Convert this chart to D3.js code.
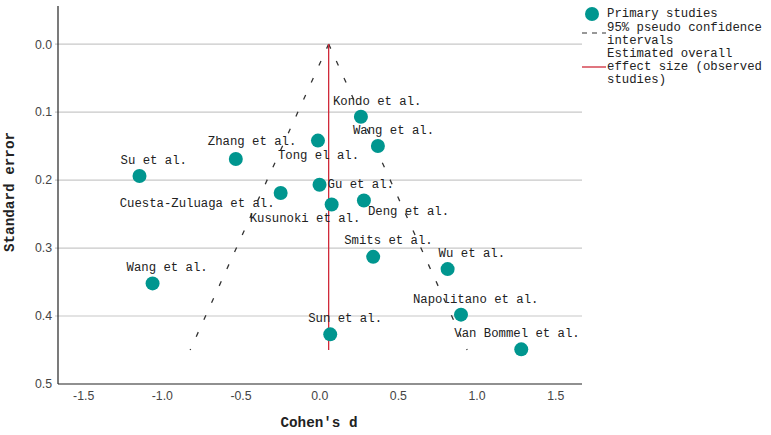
<!DOCTYPE html>
<html>
<head>
<meta charset="utf-8">
<script src="https://cdn.jsdelivr.net/npm/d3@7"></script>
<style>
  body { margin: 0; background: #fff; }
  svg { display: block; font-family: "Liberation Mono", "Courier New", monospace; }
  .lbl { font-size: 12.3px; fill: #222; }
  .tick text { font-size: 12.3px; fill: #444; }
  .ttl { font-size: 14.3px; font-weight: bold; fill: #222; }
</style>
</head>
<body>
<div id="chart"></div>
<script>
// Funnel plot: Cohen's d vs standard error
const studies = ["Kondo et al.", "Wang et al.", "Tong el al.", "Zhang et al.", "Su et al.",
  "Cuesta-Zuluaga et al.", "Gu et al.", "Kusunoki et al.", "Deng et al.", "Smits et al.",
  "Wang et al.", "Sun et al.", "Wu et al.", "Napolitano et al.", "Van Bommel et al."];
const cohenD = [0.265, 0.373, -0.008, -0.53, -1.142, -0.245, 0.002, 0.079, 0.284, 0.343,
  -1.059, 0.070, 0.816, 0.901, 1.284];
const stdErr = [0.107, 0.150, 0.142, 0.169, 0.194, 0.219, 0.207, 0.236, 0.230, 0.313,
  0.352, 0.427, 0.331, 0.398, 0.449];
const overallD = 0.06;
const overallSE = [0, 0.45];
const funnelSE = [0, 0.45];
const funnelLo = [0.06, -0.82];
const funnelHi = [0.06, 0.94];
const xTicks = [-1.5, -1.0, -0.5, 0.0, 0.5, 1.0, 1.5];
const yTicks = [0.0, 0.1, 0.2, 0.3, 0.4, 0.5];

// label placement relative to each point (px)
const labelOff = [[-28, -15], [-25, -15], [-40, 15], [-28, -17], [-19, -15],
  [-161, 11], [8, 0], [-82, 14], [4, 12], [-29, -16],
  [-26, -15], [-22, -15], [-9, -15], [-48, -15], [-67, -15]];

const W = 771, H = 435;
const teal = "#00968f", red = "#d02a3a";
const svg = d3.select("#chart").append("svg").attr("width", W).attr("height", H);
const x = d3.scaleLinear().domain([-1.66, 1.67]).range([58, 582]);
const y = d3.scaleLinear().domain([-0.056, 0.5]).range([6, 384]);

// grid
svg.append("g").selectAll("line").data(yTicks.slice(0, -1)).join("line")
  .attr("x1", x.range()[0] - 3).attr("x2", x.range()[1])
  .attr("y1", d => y(d)).attr("y2", d => y(d))
  .attr("stroke", "#c8c8c8").attr("stroke-width", 1.2);

// axes
const yAx = svg.append("g").attr("transform", `translate(${x.range()[0]},0)`)
  .call(d3.axisLeft(y).tickValues(yTicks).tickFormat(d => d.toFixed(1)).tickSize(0).tickPadding(6));
yAx.select(".domain").remove();
const xAx = svg.append("g").attr("transform", `translate(0,${y.range()[1]})`)
  .call(d3.axisBottom(x).tickValues(xTicks).tickFormat(d => d.toFixed(1).replace("\u2212", "-")).tickSize(0).tickPadding(7));
xAx.select(".domain").remove();
svg.append("line").attr("x1", x.range()[0]).attr("x2", x.range()[0])
  .attr("y1", y.range()[0]).attr("y2", y.range()[1]).attr("stroke", "#222").attr("stroke-width", 1.2);
svg.append("line").attr("x1", x.range()[0]).attr("x2", x.range()[1])
  .attr("y1", y.range()[1]).attr("y2", y.range()[1]).attr("stroke", "#222").attr("stroke-width", 1.2);

// funnel
const fl = d3.line().x(d => x(d[0])).y(d => y(d[1]));
[funnelLo, funnelHi].forEach(side => {
  svg.append("path").datum(side.map((v, i) => [v, funnelSE[i]]))
    .attr("d", fl).attr("fill", "none").attr("stroke", "#333").attr("stroke-width", 1.3)
    .attr("stroke-dasharray", "5,13.6");
});
svg.append("line").attr("x1", x(overallD)).attr("x2", x(overallD))
  .attr("y1", y(overallSE[0])).attr("y2", y(overallSE[1]))
  .attr("stroke", red).attr("stroke-width", 1.3);

// points + labels
svg.append("g").selectAll("circle").data(studies).join("circle")
  .attr("cx", (d, i) => x(cohenD[i])).attr("cy", (d, i) => y(stdErr[i]))
  .attr("r", 7).attr("fill", teal);
svg.append("g").selectAll("text").data(studies).join("text").attr("class", "lbl")
  .attr("x", (d, i) => x(cohenD[i]) + labelOff[i][0])
  .attr("y", (d, i) => y(stdErr[i]) + labelOff[i][1])
  .attr("dominant-baseline", "central").text(d => d);

// axis titles
svg.append("text").attr("class", "ttl").attr("text-anchor", "middle")
  .attr("x", 319).attr("y", 423).attr("dominant-baseline", "central").text("Cohen's d");
svg.append("text").attr("class", "ttl").attr("text-anchor", "middle")
  .attr("transform", "translate(10,192) rotate(-90)").attr("dominant-baseline", "central")
  .text("Standard error");

// legend
const lg = svg.append("g").attr("class", "lbl");
lg.append("circle").attr("cx", 592).attr("cy", 14).attr("r", 7).attr("fill", teal);
const legendText = [["Primary studies", 14], ["95% pseudo confidence", 28], ["intervals", 41],
  ["Estimated overall", 54], ["effect size (observed", 67], ["studies)", 80]];
legendText.forEach(([t, ty]) => lg.append("text").attr("x", 607).attr("y", ty)
  .attr("dominant-baseline", "central").text(t));
lg.append("line").attr("x1", 582).attr("x2", 606).attr("y1", 33).attr("y2", 33)
  .attr("stroke", "#333").attr("stroke-width", 1.2).attr("stroke-dasharray", "5,5");
lg.append("line").attr("x1", 582).attr("x2", 606).attr("y1", 67).attr("y2", 67)
  .attr("stroke", red).attr("stroke-width", 1.3);
</script>
</body>
</html>
